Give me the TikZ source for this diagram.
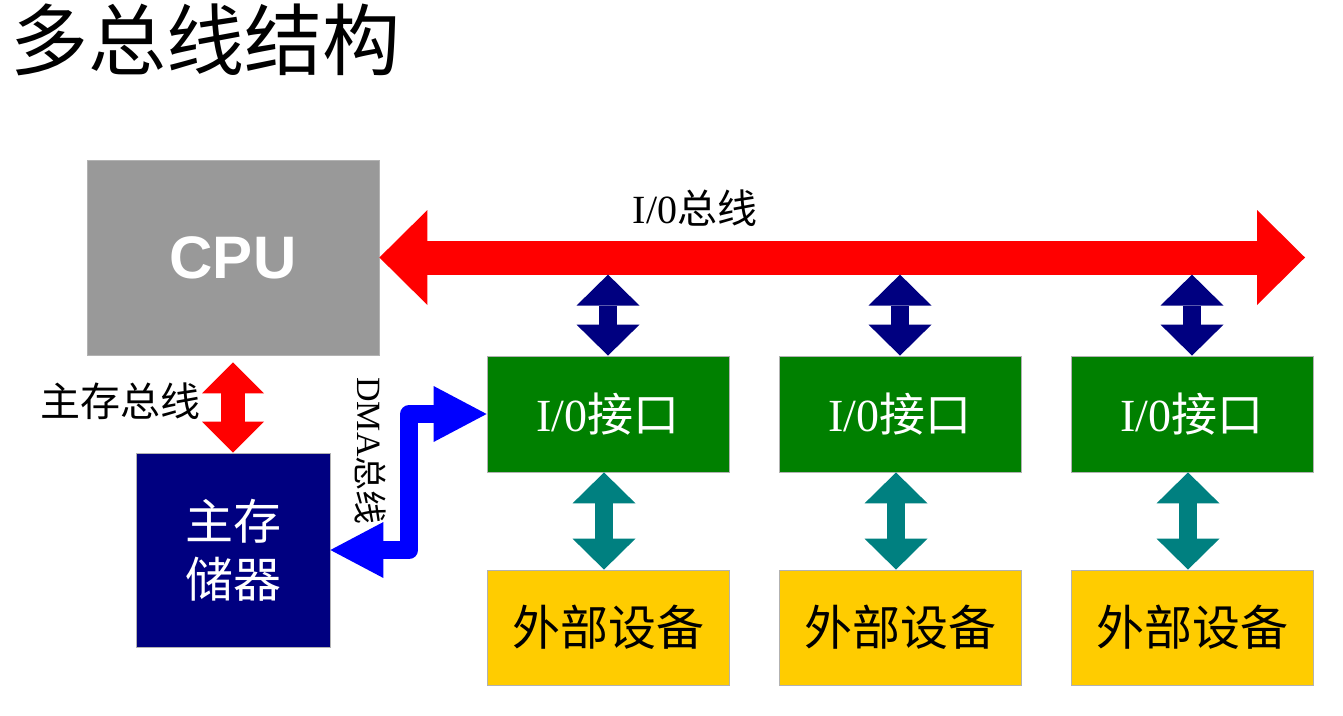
\documentclass[tikz,border=0pt]{standalone}
\usepackage{fontspec}
\setmainfont{Liberation Serif}
\newfontfamily\cjk{Noto Sans CJK SC}
\newfontfamily\cpufont{Liberation Sans}
\usepackage{tikz}
\usetikzlibrary{arrows.meta}
\usepackage{xcolor}
\definecolor{cpugray}{HTML}{999999}
\definecolor{memnavy}{HTML}{000080}
\definecolor{iogreen}{HTML}{008000}
\definecolor{devyellow}{HTML}{FFCC00}
\definecolor{devteal}{HTML}{008080}
\definecolor{dmablue}{HTML}{0000FF}

\tikzset{
  bustip/.tip={Triangle[length=48pt,width=95pt,line width=0pt]},
  smalltip/.tip={Triangle[length=31pt,width=63pt,line width=0pt]},
  memtip/.tip={Triangle[length=31pt,width=62pt,line width=0pt]},
  dmatip/.tip={Triangle[length=53pt,width=56pt,line width=0pt]},
  box/.style={draw=gray!60, line width=0.8pt, inner sep=0pt, align=center},
  iobox/.style={box, fill=iogreen, text=white, minimum width=242pt, minimum height=116pt,
    font=\fontsize{46}{46}\selectfont},
  devbox/.style={box, fill=devyellow, text=black, minimum width=242pt, minimum height=115pt,
    font=\cjk\fontsize{48}{48}\selectfont},
  busarrow/.style={red, line width=34pt, bustip-bustip},
  iobus/.style={memnavy, line width=18pt, smalltip-smalltip},
  devbus/.style={devteal, line width=18pt, smalltip-smalltip},
  membus/.style={red, line width=24pt, memtip-memtip},
  dmabus/.style={dmablue, line width=18pt, line join=round, dmatip-dmatip}
}

\begin{document}
\begin{tikzpicture}[x=1pt, y=-1pt]
     \useasboundingbox (0,0) rectangle (1343,715);
     % title
     \node[anchor=west, inner sep=0pt, font=\cjk\fontsize{78}{78}\selectfont] (title) at (10,40) {多总线结构};
     % cpu and memory
     \node[box, fill=cpugray, text=white, minimum width=292pt, minimum height=195pt,
           font=\cpufont\bfseries\fontsize{60}{60}\selectfont] (cpu) at (233,257.5) {CPU};
     \node[box, fill=memnavy, text=white, minimum width=194pt, minimum height=194pt,
           font=\cjk\fontsize{48}{58}\selectfont] (mem) at (233,550) {主存\\储器};
     % interfaces
     \node[iobox] (io1) at (608,414) {I/0{\cjk 接口}};
     \node[iobox] (io2) at (900,414) {I/0{\cjk 接口}};
     \node[iobox] (io3) at (1192,414) {I/0{\cjk 接口}};
     % devices
     \node[devbox] (ext1) at (608,627.5) {外部设备};
     \node[devbox] (ext2) at (900,627.5) {外部设备};
     \node[devbox] (ext3) at (1192,627.5) {外部设备};
     % buses
     \coordinate (busend) at (1305,257.5);
     \draw[busarrow] (cpu.east) -- (cpu.east -| busend);
     \node[inner sep=0pt, font=\fontsize{40}{40}\selectfont] (buslabel) at (695,208) {I/0{\cjk 总线}};
     \draw[iobus] ([yshift=81pt]io1.north) -- (io1.north);
     \draw[iobus] ([yshift=81pt]io2.north) -- (io2.north);
     \draw[iobus] ([yshift=81pt]io3.north) -- (io3.north);
     \draw[devbus] ([xshift=-4pt]io1.south) -- ([xshift=-4pt]ext1.north);
     \draw[devbus] ([xshift=-4pt]io2.south) -- ([xshift=-4pt]ext2.north);
     \draw[devbus] ([xshift=-4pt]io3.south) -- ([xshift=-4pt]ext3.north);
     \draw[membus, shorten <=7pt] (cpu.south) -- (mem.north);
     \node[anchor=east, inner sep=0pt, font=\cjk\fontsize{40}{40}\selectfont] (memlabel) at (201,401) {主存总线};
     \draw[dmabus] (mem.east) -- ++(79,0) |- (io1.west);
     \node[rotate=-90, inner sep=0pt, font=\fontsize{34}{34}\selectfont] (dmalabel) at (370,451) {DMA{\cjk 总线}};
\end{tikzpicture}
\end{document}
